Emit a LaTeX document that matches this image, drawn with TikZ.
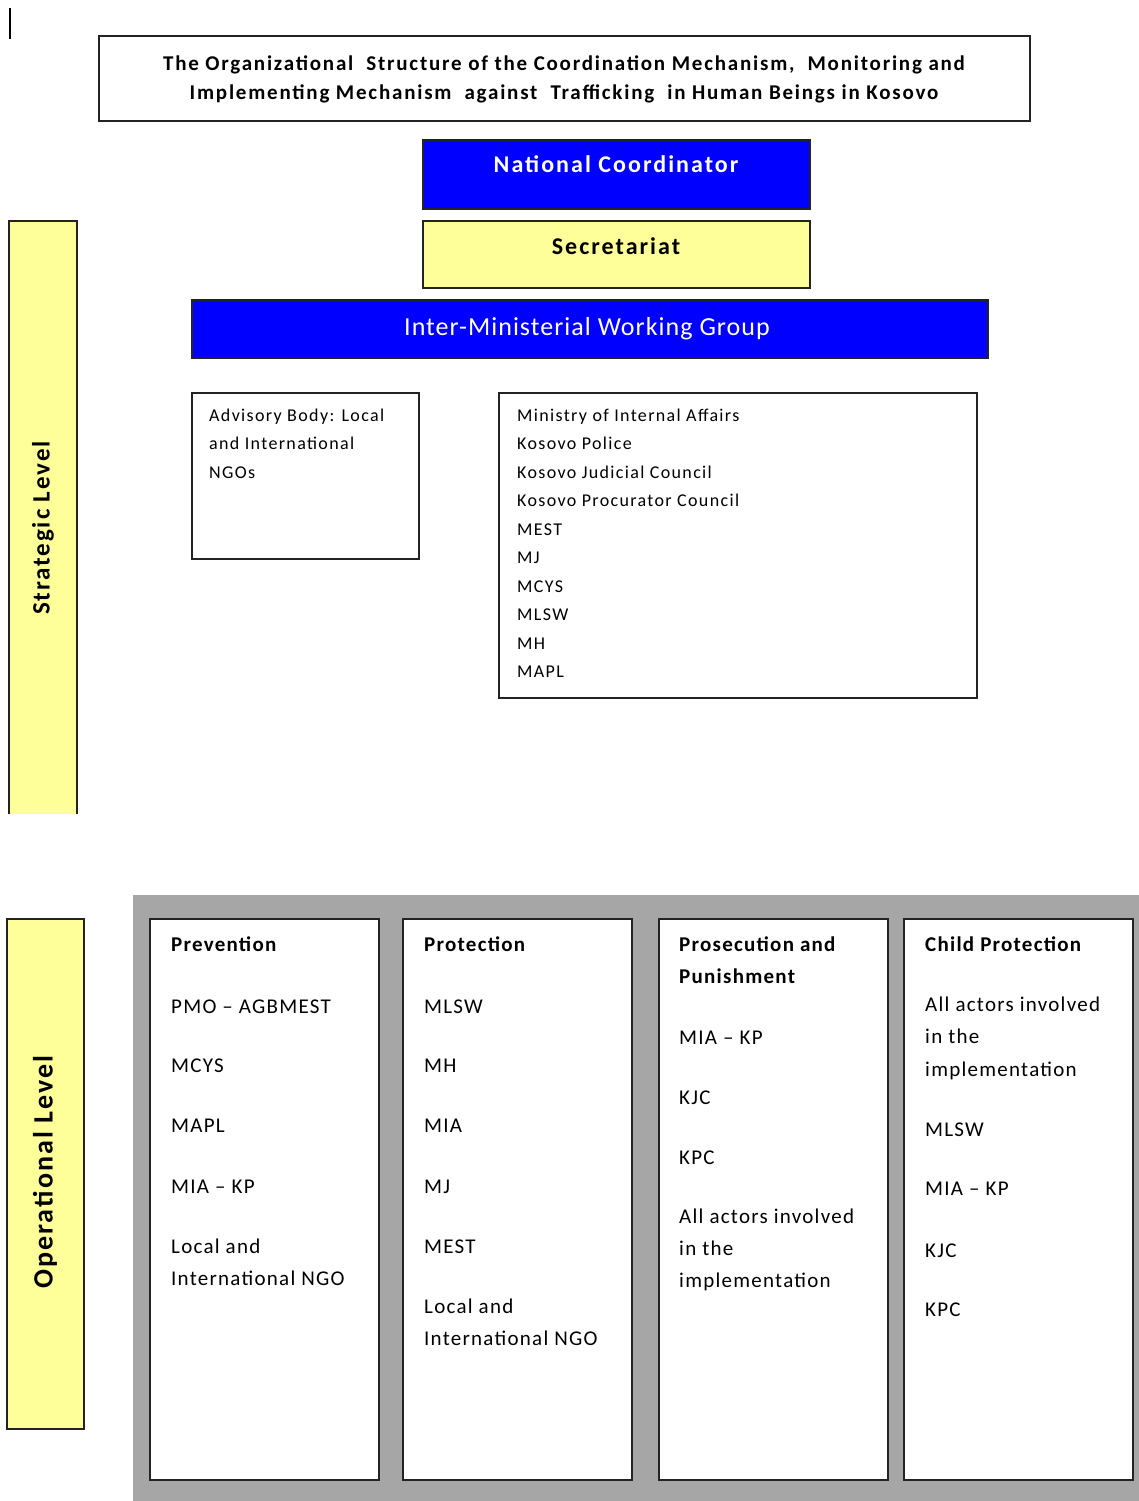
\documentclass[tikz,border=0pt]{standalone}
\usepackage{fontspec}
\setmainfont{Carlito}
\newfontfamily\fA[LetterSpace=8.5]{Carlito}
\newfontfamily\fB[LetterSpace=4]{Carlito}
\newfontfamily\fC[LetterSpace=7.5]{Carlito}
\newfontfamily\fD[LetterSpace=6]{Carlito}
\newfontfamily\fE[LetterSpace=7.5]{Carlito}
\definecolor{yel}{RGB}{255,255,153}
\definecolor{blu}{RGB}{0,0,255}
\definecolor{pan}{RGB}{166,166,166}
\definecolor{edge}{RGB}{35,35,35}
\begin{document}
\begin{tikzpicture}[x=1pt,y=-1pt,
  box/.style={draw=edge,line width=1.6pt,inner sep=0pt,anchor=north west},
  titletxt/.style={font={\fA\bfseries\fontsize{21}{29}\selectfont},align=center,inner sep=0pt,yshift=-2pt},
  headtxt/.style={font={\fA\bfseries\fontsize{24}{28}\selectfont},inner sep=0pt},
  imtxt/.style={font={\fB\fontsize{26}{30}\selectfont},text=white,inner sep=0pt,yshift=-3pt},
  listtxt/.style={font={\fC\fontsize{18}{22}\selectfont},inner sep=0pt,anchor=mid west,yshift=-4pt},
  coltxt/.style={font={\fD\fontsize{21}{25}\selectfont},inner sep=0pt,anchor=mid west,yshift=-5pt},
  leveltxt/.style={font={\fE\bfseries\fontsize{#1}{#1}\selectfont},inner sep=0pt,rotate=90}
  ]
\useasboundingbox (0,0) rectangle (1139,1501);
% top-left mark
\coordinate (m1) at (10,8);
\coordinate (m2) at (10,39);
\draw[line width=2.8pt] (m1) -- (m2);
% title
\node[box,minimum width=931pt,minimum height=85pt] (tbox) at (98,35) {};
\node[titletxt] (ttl) at (564,77) {The Organizational\ \ Structure of the Coordination Mechanism,\ \ Monitoring and\\Implementing Mechanism\ \ against\ \ Trafficking\ \ in Human Beings in Kosovo};
% national coordinator
\node[box,fill=blu,minimum width=387pt,minimum height=69pt] (nc) at (422,139) {};
\node[headtxt,text=white] (nct) at (616,164) {National Coordinator};
% secretariat
\node[box,fill=yel,minimum width=387pt,minimum height=67pt] (sec) at (422,220) {};
\node[headtxt] (sect) at (616,246) {Secretariat};
% inter-ministerial
\node[box,fill=blu,minimum width=796pt,minimum height=58pt] (imwg) at (191,299) {};
\node[imtxt] (imwgt) at (587,326) {Inter-Ministerial Working Group};
% advisory
\node[box,minimum width=227pt,minimum height=166pt] (adv) at (191,392) {};
\node[listtxt] (adv1) at (209,415) {Advisory Body: Local};
\node[listtxt] (adv2) at (209,443.5) {and International};
\node[listtxt] (adv3) at (209,472) {NGOs};
% ministries
\node[box,minimum width=478pt,minimum height=305pt] (min) at (498,392) {};
\foreach \t [count=\i from 0] in {Ministry of Internal Affairs,Kosovo Police,Kosovo Judicial Council,Kosovo Procurator Council,MEST,MJ,MCYS,MLSW,MH,MAPL}
  \node[listtxt] (min\i) at (517,415+28.5*\i) {\t};
% strategic level bar (open at bottom)
\fill[yel] (9,221) rectangle (77,814);
\coordinate (s1) at (9,814);
\coordinate (s2) at (9,221);
\coordinate (s3) at (77,221);
\coordinate (s4) at (77,814);
\draw[edge,line width=1.6pt] (s1) -- (s2) -- (s3) -- (s4);
\node[leveltxt=25] (strat) at (43,528) {Strategic Level};
% operational level bar
\node[box,fill=yel,minimum width=77pt,minimum height=510pt] (opbar) at (6,918) {};
\node[leveltxt=28] (oper) at (45,1172) {Operational Level};
% gray panel
\fill[pan] (133,895) rectangle (1139,1501);
% columns
\node[box,fill=white,minimum width=229pt,minimum height=561pt] (c1) at (149,918) {};
\node[box,fill=white,minimum width=229pt,minimum height=561pt] (c2) at (402,918) {};
\node[box,fill=white,minimum width=229pt,minimum height=561pt] (c3) at (658,918) {};
\node[box,fill=white,minimum width=229pt,minimum height=561pt] (c4) at (903,918) {};
\foreach \t/\yy [count=\i] in {{\bfseries Prevention}/944,PMO – AGBMEST/1006,MCYS/1065,MAPL/1125,MIA – KP/1186,Local and/1246,International NGO/1278}
  \node[coltxt] (pv\i) at (171,\yy) {\t};
\foreach \t/\yy [count=\i] in {{\bfseries Protection}/944,MLSW/1006,MH/1065,MIA/1125,MJ/1186,MEST/1246,Local and/1306,International NGO/1338}
  \node[coltxt] (pt\i) at (424,\yy) {\t};
\foreach \t/\yy [count=\i] in {{\bfseries Prosecution and}/944,{\bfseries Punishment}/976,MIA – KP/1037,KJC/1097,KPC/1157,All actors involved/1216,in the/1248,implementation/1280}
  \node[coltxt] (ps\i) at (679,\yy) {\t};
\foreach \t/\yy [count=\i] in {{\bfseries Child Protection}/944,All actors involved/1004,in the/1036,implementation/1069,MLSW/1129,MIA – KP/1188,KJC/1250,KPC/1309}
  \node[coltxt] (cp\i) at (925,\yy) {\t};
\end{tikzpicture}
\end{document}
